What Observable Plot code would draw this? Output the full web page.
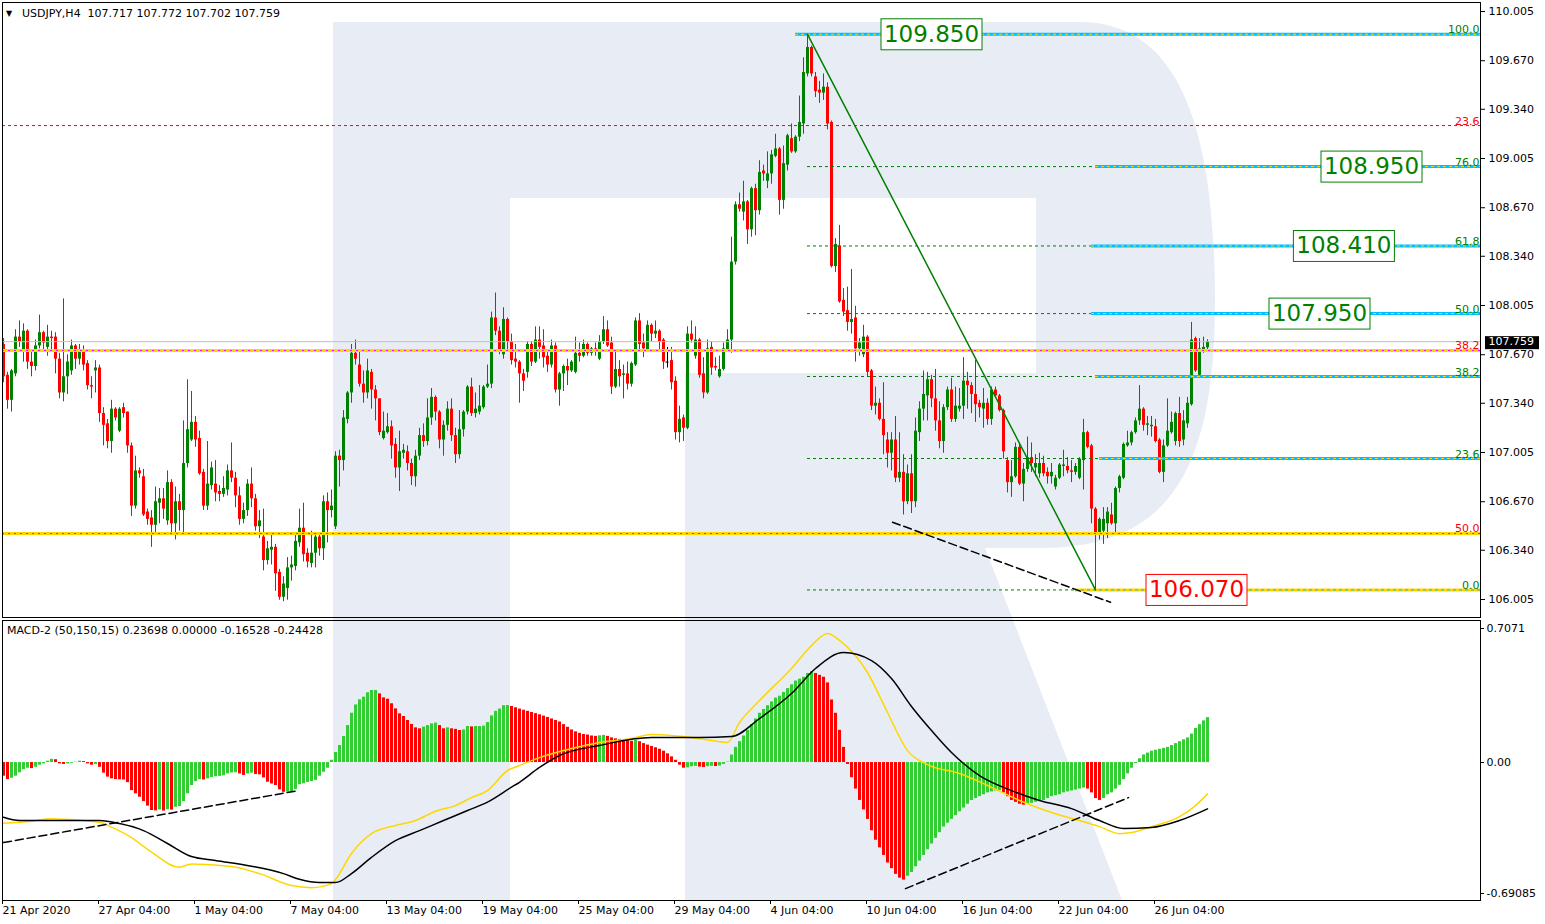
<!DOCTYPE html>
<html><head><meta charset="utf-8">
<script src="https://cdn.jsdelivr.net/npm/d3@7"></script>
<script src="https://cdn.jsdelivr.net/npm/@observablehq/plot@0.6"></script>
<style>
body{margin:0;background:#fff;}
#wrap{position:relative;width:1545px;height:924px;overflow:hidden;}
.lbl{position:absolute;font-family:"DejaVu Sans",sans-serif;font-size:11px;line-height:13px;color:#000;white-space:pre;z-index:5;}
</style></head><body><div id="wrap"></div>
<script>
// ---------- DATA ----------
const open = [
107.74,107.53,107.36,107.54,107.79,107.70,107.83,107.62,107.59,107.73,
107.82,107.72,107.79,107.79,107.64,107.41,107.52,107.56,107.73,107.64,
107.70,107.61,107.46,107.56,107.58,107.27,107.20,107.08,107.30,107.15,
107.31,107.28,107.05,106.64,106.88,106.84,106.60,106.56,106.51,106.66,
106.69,106.54,106.80,106.52,106.67,106.61,106.93,107.09,107.21,107.10,
106.87,106.64,106.78,106.79,106.74,106.72,106.75,106.88,106.83,106.71,
106.55,106.61,106.79,106.69,106.50,106.43,106.27,106.34,106.36,106.19,
106.02,106.08,106.22,106.23,106.39,106.49,106.32,106.25,106.32,106.43,
106.35,106.67,106.61,106.50,106.98,106.95,107.23,107.41,107.68,107.60,
107.47,107.41,107.55,107.43,107.37,107.10,107.14,107.18,107.06,106.90,
107.00,107.01,106.93,106.84,106.98,107.12,107.08,107.24,107.38,107.28,
107.09,107.19,107.30,107.12,106.99,107.16,107.28,107.45,107.27,107.28,
107.31,107.45,107.47,107.92,107.83,107.67,107.91,107.76,107.64,107.62,
107.54,107.55,107.74,107.62,107.77,107.73,107.66,107.60,107.73,107.43,
107.54,107.59,107.56,107.55,107.68,107.66,107.74,107.68,107.71,107.64,
107.76,107.84,107.75,107.45,107.57,107.53,107.54,107.47,107.60,107.90,
107.75,107.70,107.87,107.81,107.83,107.77,107.62,107.63,107.49,107.14,
107.24,107.17,107.81,107.66,107.77,107.54,107.41,107.72,107.59,107.52,
107.57,107.70,107.77,108.30,108.69,108.64,108.71,108.52,108.80,108.65,
108.92,108.85,108.90,109.02,109.07,108.72,108.96,109.14,109.05,109.15,
109.24,109.58,109.76,109.56,109.47,109.45,109.49,109.25,108.27,108.41,
108.04,107.97,107.89,107.92,107.71,107.67,107.79,107.56,107.32,107.34,
107.23,107.09,107.00,107.09,106.83,106.87,106.67,106.86,106.67,107.14,
107.30,107.39,107.50,107.37,107.22,107.08,107.31,107.43,107.23,107.30,
107.32,107.49,107.46,107.40,107.34,107.30,107.34,107.23,107.43,107.39,
107.29,106.95,106.80,106.84,107.04,106.79,106.89,106.97,106.90,106.86,
106.93,106.87,106.84,106.77,106.83,106.91,106.91,106.88,106.87,106.83,
106.95,107.14,107.05,106.62,106.46,106.47,106.52,106.58,106.52,106.76,
106.83,107.05,107.07,107.14,107.22,107.30,107.19,107.18,107.18,107.09,
106.87,107.05,107.14,107.08,107.27,107.09,107.20,107.33,107.78,107.53,
107.70,107.717];
const high = [
107.78,107.55,107.57,107.84,107.90,107.88,107.84,107.70,107.77,107.94,
107.83,107.87,107.83,107.82,107.68,108.05,107.67,107.77,107.74,107.74,
107.73,107.63,107.52,107.63,107.60,107.31,107.23,107.36,107.31,107.31,
107.34,107.28,107.07,106.98,106.90,106.89,106.62,106.61,106.77,106.76,
106.76,106.88,106.82,106.77,106.72,107.22,107.50,107.42,107.25,107.15,
106.89,107.08,106.94,106.95,106.78,106.84,106.92,107.07,106.87,106.77,
106.66,106.82,106.90,106.72,106.61,106.62,106.40,106.44,106.38,106.21,
106.16,106.29,106.30,106.44,106.62,106.66,106.35,106.47,106.45,106.46,
106.71,106.73,106.75,107.01,107.02,107.29,107.42,107.74,107.77,107.70,
107.56,107.64,107.57,107.46,107.37,107.28,107.27,107.22,107.10,107.15,
107.06,107.05,106.96,107.02,107.17,107.20,107.37,107.44,107.39,107.29,
107.22,107.35,107.37,107.17,107.29,107.29,107.46,107.51,107.41,107.46,
107.46,107.60,107.96,108.09,107.86,107.99,107.92,107.81,107.74,107.63,
107.57,107.76,107.76,107.86,107.86,107.84,107.69,107.77,107.75,107.55,
107.60,107.64,107.63,107.79,107.75,107.77,107.75,107.72,107.75,107.80,
107.93,107.90,107.79,107.70,107.63,107.60,107.62,107.62,107.92,107.95,
107.81,107.90,107.88,107.90,107.84,107.78,107.72,107.72,107.52,107.32,
107.26,107.86,107.90,107.86,107.78,107.65,107.77,107.76,107.65,107.66,
107.75,107.84,108.47,108.71,108.77,108.85,108.72,108.81,108.83,108.99,
108.96,109.05,109.06,109.17,109.08,109.09,109.17,109.24,109.16,109.43,
109.69,109.85,109.77,109.59,109.53,109.58,109.52,109.26,108.46,108.55,
108.12,108.13,108.25,108.00,107.78,107.87,107.80,107.57,107.45,107.37,
107.48,107.14,107.14,107.25,107.14,106.99,106.92,106.99,107.24,107.35,
107.56,107.55,107.53,107.57,107.35,107.33,107.45,107.51,107.45,107.44,
107.65,107.55,107.48,107.63,107.36,107.44,107.37,107.45,107.45,107.40,
107.30,106.97,106.95,107.07,107.06,106.93,107.11,107.07,106.99,107.00,
106.98,106.90,106.93,106.85,106.93,107.02,106.97,106.95,106.93,106.97,
107.23,107.15,107.06,106.63,106.56,106.63,106.63,106.66,106.77,106.85,
107.07,107.15,107.15,107.24,107.46,107.31,107.25,107.25,107.23,107.10,
107.09,107.37,107.28,107.28,107.38,107.29,107.38,107.89,107.79,107.78,
107.79,107.772];
const low = [
107.48,107.30,107.28,107.52,107.72,107.62,107.57,107.52,107.56,107.71,
107.70,107.66,107.70,107.54,107.37,107.35,107.40,107.53,107.57,107.60,
107.56,107.43,107.37,107.41,107.21,107.05,107.03,107.00,107.22,107.14,
107.24,107.00,106.57,106.62,106.83,106.57,106.51,106.36,106.45,106.52,
106.55,106.51,106.45,106.41,106.47,106.45,106.90,107.08,107.04,106.85,
106.61,106.61,106.75,106.67,106.67,106.70,106.71,106.80,106.63,106.51,
106.52,106.57,106.63,106.47,106.42,106.20,106.24,106.24,106.06,106.00,
105.99,106.00,106.13,106.20,106.36,106.26,106.22,106.22,106.22,106.30,
106.27,106.39,106.56,106.48,106.77,106.88,107.20,107.34,107.60,107.45,
107.34,107.37,107.30,107.22,107.12,107.09,107.13,106.96,106.83,106.74,
106.96,106.88,106.78,106.77,106.95,107.04,107.05,107.19,107.22,107.03,
106.98,107.15,107.08,106.93,106.96,107.11,107.26,107.25,107.24,107.26,
107.30,107.44,107.44,107.80,107.67,107.64,107.70,107.60,107.58,107.34,
107.42,107.51,107.59,107.61,107.64,107.58,107.55,107.58,107.41,107.32,
107.42,107.46,107.55,107.54,107.62,107.65,107.66,107.66,107.66,107.63,
107.74,107.72,107.40,107.44,107.45,107.37,107.43,107.45,107.59,107.69,
107.65,107.69,107.76,107.78,107.69,107.57,107.58,107.43,107.09,107.07,
107.08,107.16,107.75,107.64,107.51,107.37,107.40,107.53,107.56,107.51,
107.56,107.69,107.68,108.28,108.64,108.58,108.42,108.47,108.48,108.62,
108.85,108.80,108.83,109.01,108.62,108.66,108.92,109.04,109.04,109.12,
109.17,109.56,109.56,109.42,109.38,109.40,109.20,108.26,108.23,108.02,
107.93,107.83,107.81,107.62,107.66,107.65,107.52,107.29,107.26,107.22,
106.99,106.90,106.88,106.80,106.80,106.58,106.65,106.59,106.63,107.08,
107.22,107.22,107.31,107.15,107.03,107.00,107.29,107.21,107.21,107.28,
107.23,107.30,107.27,107.21,107.24,107.17,107.19,107.19,107.38,107.28,
106.96,106.73,106.70,106.83,106.78,106.67,106.87,106.87,106.84,106.83,
106.84,106.79,106.79,106.75,106.82,106.84,106.86,106.80,106.85,106.82,
106.75,107.03,106.52,106.07,106.41,106.38,106.42,106.51,106.46,106.73,
106.82,107.04,107.05,107.13,107.19,107.15,107.12,107.11,107.07,106.86,
106.80,107.04,107.13,107.05,107.04,107.05,107.17,107.32,107.55,107.52,
107.68,107.702];
const close = [
107.52,107.36,107.56,107.79,107.76,107.83,107.62,107.59,107.73,107.82,
107.75,107.79,107.78,107.64,107.41,107.52,107.62,107.73,107.64,107.70,
107.60,107.46,107.45,107.58,107.27,107.19,107.08,107.30,107.24,107.30,
107.27,107.05,106.64,106.88,106.86,106.58,106.55,106.51,106.67,106.69,
106.62,106.80,106.52,106.67,106.61,106.93,107.16,107.21,107.09,106.86,
106.64,106.79,106.90,106.73,106.72,106.76,106.88,106.83,106.71,106.55,
106.61,106.79,106.69,106.50,106.54,106.27,106.35,106.36,106.18,106.02,
106.11,106.22,106.24,106.40,106.49,106.31,106.26,106.32,106.43,106.35,
106.67,106.61,106.64,106.98,106.95,107.24,107.41,107.68,107.64,107.47,
107.41,107.56,107.43,107.37,107.14,107.15,107.18,107.05,106.90,107.01,
107.02,106.93,106.84,106.98,107.12,107.08,107.24,107.38,107.28,107.09,
107.19,107.30,107.12,106.99,107.16,107.28,107.45,107.27,107.30,107.32,
107.45,107.47,107.92,107.83,107.69,107.91,107.76,107.63,107.62,107.54,
107.49,107.74,107.62,107.77,107.72,107.65,107.60,107.73,107.43,107.54,
107.59,107.56,107.62,107.68,107.66,107.74,107.68,107.71,107.69,107.76,
107.84,107.73,107.45,107.57,107.52,107.54,107.47,107.61,107.90,107.74,
107.71,107.87,107.81,107.83,107.76,107.62,107.62,107.48,107.14,107.23,
107.17,107.81,107.77,107.77,107.53,107.41,107.71,107.58,107.58,107.57,
107.71,107.77,108.30,108.69,108.66,108.71,108.52,108.80,108.65,108.91,
108.90,108.90,109.03,109.07,108.72,108.97,109.16,109.05,109.15,109.25,
109.59,109.76,109.58,109.46,109.45,109.49,109.24,108.27,108.42,108.03,
107.96,107.89,107.91,107.71,107.75,107.79,107.55,107.32,107.34,107.23,
107.12,107.00,107.09,106.83,106.87,106.67,106.86,106.67,107.15,107.30,
107.40,107.50,107.37,107.22,107.08,107.31,107.43,107.23,107.32,107.32,
107.49,107.46,107.40,107.33,107.31,107.34,107.23,107.43,107.39,107.29,
107.01,106.80,106.84,107.04,106.79,106.89,106.97,106.93,106.93,106.93,
106.86,106.84,106.87,106.83,106.92,106.92,106.88,106.87,106.91,106.96,
107.14,107.04,106.62,106.46,106.55,106.55,106.60,106.52,106.76,106.84,
107.06,107.07,107.14,107.22,107.30,107.19,107.20,107.19,107.08,106.87,
107.05,107.15,107.21,107.27,107.08,107.22,107.34,107.77,107.56,107.71,
107.72,107.759];

const macdHist = [
-0.072,-0.09,-0.083,-0.072,-0.054,-0.037,-0.03,-0.032,-0.025,-0.014,
-0.007,0.007,0.017,0.015,-0.007,-0.01,-0.007,-0.004,0.002,0.007,
0.005,-0.007,-0.014,-0.01,-0.025,-0.056,-0.077,-0.086,-0.09,-0.091,
-0.092,-0.106,-0.148,-0.165,-0.183,-0.206,-0.23,-0.253,-0.255,-0.25,
-0.256,-0.249,-0.251,-0.236,-0.232,-0.206,-0.165,-0.121,-0.1,-0.09,
-0.092,-0.086,-0.079,-0.075,-0.073,-0.07,-0.06,-0.055,-0.054,-0.06,
-0.068,-0.06,-0.056,-0.063,-0.065,-0.081,-0.104,-0.113,-0.121,-0.144,
-0.157,-0.155,-0.153,-0.143,-0.117,-0.112,-0.105,-0.1,-0.094,-0.072,
-0.051,-0.03,0.012,0.053,0.09,0.137,0.195,0.26,0.304,0.331,
0.345,0.368,0.38,0.38,0.362,0.341,0.334,0.31,0.283,0.257,
0.243,0.222,0.201,0.183,0.178,0.187,0.195,0.204,0.208,0.195,
0.178,0.183,0.178,0.175,0.169,0.172,0.19,0.188,0.19,0.19,
0.192,0.211,0.246,0.27,0.282,0.3,0.301,0.296,0.289,0.282,
0.276,0.27,0.264,0.258,0.252,0.245,0.238,0.23,0.222,0.214,
0.2,0.186,0.172,0.162,0.154,0.148,0.145,0.14,0.138,0.141,
0.143,0.138,0.13,0.125,0.122,0.118,0.115,0.112,0.116,0.11,
0.1,0.092,0.085,0.078,0.07,0.06,0.046,0.03,0.012,-0.014,
-0.03,-0.028,-0.022,-0.02,-0.024,-0.026,-0.022,-0.02,-0.021,-0.018,
-0.01,0.002,0.04,0.08,0.11,0.14,0.17,0.2,0.23,0.26,
0.28,0.3,0.32,0.34,0.35,0.37,0.39,0.41,0.43,0.44,
0.45,0.47,0.48,0.47,0.46,0.45,0.42,0.33,0.26,0.17,
0.08,-0.01,-0.08,-0.14,-0.2,-0.25,-0.3,-0.36,-0.41,-0.45,
-0.49,-0.53,-0.56,-0.59,-0.61,-0.62,-0.6,-0.58,-0.55,-0.52,
-0.49,-0.46,-0.43,-0.4,-0.37,-0.34,-0.32,-0.3,-0.28,-0.26,
-0.24,-0.22,-0.2,-0.19,-0.18,-0.17,-0.16,-0.155,-0.15,-0.148,
-0.16,-0.18,-0.2,-0.21,-0.22,-0.225,-0.22,-0.215,-0.21,-0.205,
-0.2,-0.19,-0.18,-0.175,-0.17,-0.16,-0.155,-0.15,-0.145,-0.14,
-0.135,-0.14,-0.16,-0.19,-0.2,-0.19,-0.17,-0.16,-0.14,-0.12,
-0.09,-0.06,-0.03,-0.005,0.02,0.04,0.05,0.06,0.065,0.07,
0.075,0.08,0.09,0.1,0.11,0.12,0.13,0.15,0.18,0.2,0.22,0.237];

// MACD main line (gold) and signal line (black), read at sample bars
const macdGoldIdx = [0,7,12,24,27,32,37,44,47,57,64,72,77,82,83,87,92,98,103,108,113,117,121,126,129,134,142,149,157,162,170,177,181,184,189,197,202,206,209,216,221,226,231,239,246,254,262,269,274,279,282,287,294,298,301];
const macdGoldVal = [-0.320,-0.310,-0.296,-0.315,-0.341,-0.396,-0.473,-0.552,-0.535,-0.549,-0.586,-0.649,-0.660,-0.639,-0.617,-0.480,-0.375,-0.332,-0.306,-0.257,-0.227,-0.185,-0.148,-0.042,-0.016,0.026,0.074,0.106,0.127,0.148,0.137,0.116,0.106,0.211,0.327,0.496,0.617,0.681,0.644,0.475,0.264,0.063,-0.011,-0.058,-0.121,-0.200,-0.264,-0.306,-0.338,-0.375,-0.369,-0.338,-0.285,-0.227,-0.16528];
const macdBlackIdx = [0,4,24,29,35,41,47,53,62,70,74,79,83,87,92,98,104,110,116,121,127,129,134,139,149,162,174,182,189,197,203,210,217,222,227,232,237,244,252,259,267,274,280,287,294,301];
const macdBlackVal = [-0.289,-0.306,-0.306,-0.322,-0.359,-0.427,-0.496,-0.517,-0.547,-0.586,-0.616,-0.633,-0.633,-0.586,-0.500,-0.412,-0.359,-0.306,-0.253,-0.209,-0.130,-0.104,-0.026,0.037,0.090,0.132,0.132,0.137,0.232,0.364,0.496,0.580,0.538,0.443,0.296,0.169,0.053,-0.069,-0.148,-0.200,-0.243,-0.306,-0.348,-0.343,-0.306,-0.24428];

const priceTicks = [110.005,109.670,109.340,109.005,108.670,108.340,108.005,107.670,107.340,107.005,106.670,106.340,106.005];
const macdTicks = [0.7071, 0, -0.69085];
const macdTickLabels = ["0.7071","0.00","-0.69085"];
const timeTickIdx = [0,24,48,72,96,120,144,168,192,216,240,264,288];
const timeLabels = ["21 Apr 2020","27 Apr 04:00","1 May 04:00","7 May 04:00","13 May 04:00","19 May 04:00","25 May 04:00","29 May 04:00","4 Jun 04:00","10 Jun 04:00","16 Jun 04:00","22 Jun 04:00","26 Jun 04:00"];

// Fibonacci (green, drawn from the 109.850 high to the 106.070 low)
const fibGreenPrices = [109.85,108.95,108.41,107.95,107.522,106.964,106.07];
const fibGreenLabels = ["100.0","76.0","61.8","50.0","38.2","23.6","0.0"];
const fibGreenFrom = 201;
// Horizontal cyan levels
const cyanPrices = [109.85,108.95,108.41,107.95,107.522,106.964];
const cyanFrom = [198,273,272,272,273,274];
// Red Fibonacci (older swing)
const fibRedPrices = [109.229,107.699,106.454];
const fibRedLabels = ["23.6","38.2","50.0"];
// Gold 0.0 level
const zeroLevel = 106.07, zeroFrom = 268;
const lastPrice = 107.759;
// Boxed price labels
const boxPrices = [109.85,108.95,108.41,107.95,106.07];
const boxTexts = ["109.850","108.950","108.410","107.950","106.070"];
const boxAt = [232,342,335.1,329,298.25];
const boxColors = ["#008000","#008000","#008000","#008000","#ff0000"];
// Trend lines
const trendGreen = [{i:201,p:109.85},{i:273,p:106.07}];
const trendDash = [{i:222.25,p:106.531},{i:276.75,p:105.986}];
const macdDash1 = [{i:0,v:-0.422},{i:73.75,v:-0.148}];
const macdDash2 = [{i:225.5,v:-0.665},{i:281.25,v:-0.185}];

// ---------- BUILD ----------
const xDomain = [-0.25, 369.25];
const xEnd = xDomain[1];
const GREEN = "#008000", RED = "#ff0000";
const bars = close.map((c,i)=>({i,o:open[i],h:high[i],l:low[i],c,
  col: c>open[i]?GREEN:(c<open[i]?RED:"#000000")}));
const dojis = bars.filter(d=>d.o===d.c);
const hist = macdHist.map((v,i)=>({i,v,col:(i>0 && v>=macdHist[i-1])?"#32cd32":RED}));
const greenFib = fibGreenPrices.map((p,k)=>({p,label:fibGreenLabels[k]}));
const cyan = cyanPrices.map((p,k)=>({p,s:cyanFrom[k]}));
const redFib = fibRedPrices.map((p,k)=>({p,label:fibRedLabels[k]}));
const boxes = boxPrices.map((p,k)=>({p,t:boxTexts[k],i:boxAt[k],col:boxColors[k]}));
const font = "DejaVu Sans";
const svgStyle = "background:transparent;overflow:visible;font-family:'DejaVu Sans',sans-serif;font-size:11px;position:absolute;left:0;";

const main = Plot.plot({
  width:1545, height:619, marginLeft:2, marginRight:65, marginTop:2, marginBottom:2,
  style: svgStyle + "top:0px;",
  x:{domain:xDomain, range:[2,1480], axis:null},
  y:{domain:[106.005,110.005], range:[599,11]},
  color:{type:"identity"},
  marks:[
    Plot.ruleX(bars,{x:"i",y1:"l",y2:"h",stroke:"col"}),
    Plot.ruleX(bars,{x:"i",y1:"o",y2:"c",stroke:"col",strokeWidth:3}),
    Plot.ruleY(dojis,{y:"o",x1:d=>d.i-0.375,x2:d=>d.i+0.375,stroke:"#000"}),
    Plot.ruleY([lastPrice],{stroke:"#c0c0c0"}),
    Plot.ruleY(redFib.slice(0,1),{y:"p",stroke:RED,strokeDasharray:"3,3"}),
    Plot.ruleY(greenFib,{y:"p",x1:()=>fibGreenFrom,x2:()=>xEnd,stroke:GREEN,strokeDasharray:"3,3"}),
    Plot.ruleY(cyan,{y:"p",x1:"s",x2:()=>xEnd,stroke:"#00bfff",strokeWidth:3}),
    Plot.ruleY(cyan,{y:"p",x1:"s",x2:()=>xEnd,stroke:"#ffd700",strokeDasharray:"3,3"}),
    Plot.ruleY(redFib.slice(1),{y:"p",stroke:"#ffd700",strokeWidth:3}),
    Plot.ruleY(redFib.slice(1),{y:"p",stroke:"#ff00ff",strokeDasharray:"2,4"}),
    Plot.ruleY([zeroLevel],{x1:()=>zeroFrom,x2:()=>xEnd,stroke:"#ffd700",strokeWidth:3}),
    Plot.ruleY([zeroLevel],{x1:()=>zeroFrom,x2:()=>xEnd,stroke:"#00bfff",strokeDasharray:"3,3"}),
    Plot.line(trendGreen,{x:"i",y:"p",stroke:GREEN}),
    Plot.line(trendDash,{x:"i",y:"p",stroke:"#000",strokeDasharray:"8,4"}),
    Plot.text(greenFib,{x:()=>xEnd,y:"p",text:"label",fill:GREEN,textAnchor:"end",lineAnchor:"bottom",dx:-1,dy:-1,fontSize:11,fontFamily:font}),
    Plot.text(redFib,{x:()=>xEnd,y:"p",text:"label",fill:RED,textAnchor:"end",lineAnchor:"bottom",dx:-1,dy:-1,fontSize:11,fontFamily:font}),
    Plot.text(boxes,{x:"i",y:"p",text:"t",fill:"col",fontSize:23,fontFamily:font}),
    Plot.frame({stroke:"#000"}),
    Plot.axisY({anchor:"right",ticks:priceTicks,tickFormat:d=>d.toFixed(3),tickSize:4,tickPadding:4,label:null,fontSize:11,fontFamily:font}),
    Plot.text([lastPrice],{x:()=>xEnd,y:d=>d,text:d=>d.toFixed(3),dx:8,textAnchor:"start",fill:"#ffffff",fontSize:11,fontFamily:font})
  ]
});

const macd = Plot.plot({
  width:1545, height:305, marginLeft:2, marginRight:65, marginTop:1, marginBottom:24,
  style: svgStyle + "top:619px;",
  x:{domain:xDomain, range:[2,1480]},
  y:{domain:[-0.69085,0.7071], range:[274,9]},
  color:{type:"identity"},
  marks:[
    Plot.ruleX(hist,{x:"i",y1:0,y2:"v",stroke:"col",strokeWidth:3}),
    Plot.line(macdGoldIdx.map((i,k)=>({i,v:macdGoldVal[k]})),{x:"i",y:"v",stroke:"#ffd700",curve:"monotone-x"}),
    Plot.line(macdBlackIdx.map((i,k)=>({i,v:macdBlackVal[k]})),{x:"i",y:"v",stroke:"#000",curve:"monotone-x"}),
    Plot.line(macdDash1,{x:"i",y:"v",stroke:"#000",strokeDasharray:"8,4"}),
    Plot.line(macdDash2,{x:"i",y:"v",stroke:"#000",strokeDasharray:"8,4"}),
    Plot.frame({stroke:"#000"}),
    Plot.axisY({anchor:"right",ticks:macdTicks,tickFormat:d=>macdTickLabels[macdTicks.indexOf(d)],tickSize:3,tickPadding:3,label:null,fontSize:11,fontFamily:font}),
    Plot.axisX({anchor:"bottom",ticks:timeTickIdx,tickFormat:d=>timeLabels[timeTickIdx.indexOf(d)],tickSize:4,tickPadding:2,textAnchor:"start",dx:-1,label:null,fontSize:11,fontFamily:font})
  ]
});

const wrap = document.getElementById("wrap");
const wm = d3.create("svg").attr("width",1545).attr("height",924)
  .style("position","absolute").style("left","0px").style("top","0px");
wm.append("path")
  .attr("d","M333,22H1080C1180,22 1215,130 1215,300C1215,470 1170,548 1040,548H985L1122,900H685V373H1036V198H510V900H333Z")
  .attr("fill","#e8edf5");
wrap.appendChild(wm.node());
wrap.appendChild(main);
wrap.appendChild(macd);

// draw a box behind selected text labels (found by their content)
function boxBehind(svg, texts, px, h, fill, stroke){
  svg.querySelectorAll("text").forEach(t=>{
    const s = t.textContent.trim();
    if(!texts.includes(s)) return;
    const b = t.getBBox();
    const r = document.createElementNS("http://www.w3.org/2000/svg","rect");
    const cy = b.y + b.height/2;
    r.setAttribute("x", Math.round(b.x-px)+0.5);
    r.setAttribute("y", Math.round(cy-h/2)+0.5);
    r.setAttribute("width", Math.round(b.width+2*px));
    r.setAttribute("height", h);
    r.setAttribute("fill", fill);
    let col = stroke;
    if(stroke==="auto"){
      col = t.getAttribute("fill") || (t.parentNode.getAttribute && t.parentNode.getAttribute("fill")) || "#000";
    }
    r.setAttribute("stroke", col);
    if(t.getAttribute("transform")) r.setAttribute("transform", t.getAttribute("transform"));
    t.parentNode.insertBefore(r,t);
  });
}
boxBehind(main, boxTexts, 3, 31, "#ffffff", "auto");
boxBehind(main, [lastPrice.toFixed(3)], 4, 13, "#000000", "none");

function lbl(text,left,top){
  const d=document.createElement("div"); d.className="lbl"; d.textContent=text;
  d.style.left=left+"px"; d.style.top=top+"px"; wrap.appendChild(d); return d;
}
const tri = lbl("▼",6,7); tri.style.fontSize="8px";
lbl("USDJPY,H4  107.717 107.772 107.702 107.759",22,7);
lbl("MACD-2 (50,150,15) 0.23698 0.00000 -0.16528 -0.24428",7,624);
</script></body></html>
